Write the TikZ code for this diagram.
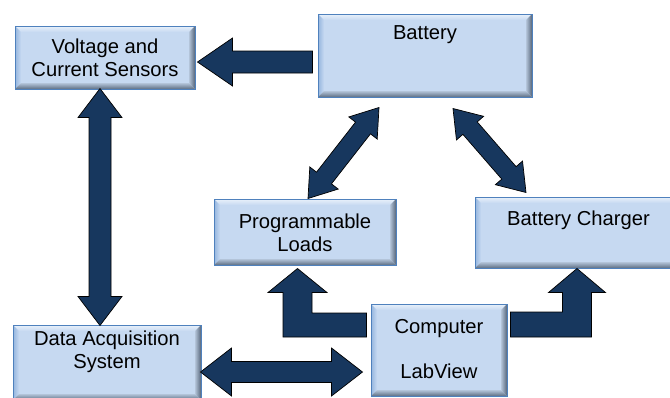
\documentclass[tikz,border=0pt]{standalone}
\usepackage{fontspec}
\setmainfont{Liberation Sans}
\usetikzlibrary{calc}
\definecolor{boxface}{HTML}{C6D9F1}
\definecolor{boxline}{HTML}{4F81BD}
\definecolor{bevtop}{HTML}{E9F1FA}
\definecolor{bevleft}{HTML}{95B5DE}
\definecolor{bevright}{HTML}{56667A}
\definecolor{bevbot}{HTML}{5E6F84}
\definecolor{bevmid}{HTML}{B3C4D9}
\definecolor{arrowfill}{HTML}{17375E}
\tikzset{
  bevelbox/.style={draw=boxline, line width=1pt, fill=boxface, inner sep=0pt,
    path picture={
      \coordinate (nw) at (path picture bounding box.north west);
      \coordinate (ne) at (path picture bounding box.north east);
      \coordinate (sw) at (path picture bounding box.south west);
      \coordinate (se) at (path picture bounding box.south east);
      \shade[top color=bevtop, bottom color=boxface] (nw) -- (ne) -- ($(ne)+(-6pt,-6pt)$) -- ($(nw)+(6pt,-6pt)$) -- cycle;
      \shade[left color=bevleft, right color=boxface] (nw) -- ($(nw)+(6pt,-6pt)$) -- ($(sw)+(6pt,6pt)$) -- (sw) -- cycle;
      \shade[left color=bevmid, right color=bevright] (ne) -- ($(ne)+(-6pt,-6pt)$) -- ($(se)+(-6pt,6pt)$) -- (se) -- cycle;
      \shade[top color=bevmid, bottom color=bevbot] (sw) -- ($(sw)+(6pt,6pt)$) -- ($(se)+(-6pt,6pt)$) -- (se) -- cycle;
    }},
  boxtext/.style={align=center, inner sep=0pt, font=\fontsize{20.2}{23}\selectfont},
  blockarrow/.style={fill=arrowfill, draw=black, line width=0.7pt, line join=miter}
}
\newcommand{\sglarrow}[5]{%
  \coordinate (hh) at ($(#2)!#5!(#1)$);
  \filldraw[blockarrow] ($(#1)!#3!90:(#2)$) -- ($(hh)!#3!-90:(#1)$) -- ($(hh)!#4!-90:(#1)$) -- (#2)
    -- ($(hh)!#4!90:(#1)$) -- ($(hh)!#3!90:(#1)$) -- ($(#1)!#3!-90:(#2)$) -- cycle;
}
\newcommand{\dblarrow}[5]{%
  \coordinate (ha) at ($(#1)!#5!(#2)$);
  \coordinate (hb) at ($(#2)!#5!(#1)$);
  \filldraw[blockarrow] (#1) -- ($(ha)!#4!90:(#2)$) -- ($(ha)!#3!90:(#2)$) -- ($(hb)!#3!-90:(#1)$)
    -- ($(hb)!#4!-90:(#1)$) -- (#2) -- ($(hb)!#4!90:(#1)$) -- ($(hb)!#3!90:(#1)$)
    -- ($(ha)!#3!-90:(#2)$) -- ($(ha)!#4!-90:(#2)$) -- cycle;
}
\begin{document}
\begin{tikzpicture}[x=1pt, y=-1pt]
\useasboundingbox (0,0) rectangle (670,397);
\clip (0,0) rectangle (670,397);
% boxes
\node[bevelbox, minimum width=180pt, minimum height=63pt] (volt) at (105,57.5) {};
\node[bevelbox, minimum width=214pt, minimum height=83pt] (bat) at (425,55.5) {};
\node[bevelbox, minimum width=182pt, minimum height=66pt] (prog) at (305,232) {};
\node[bevelbox, minimum width=207pt, minimum height=71pt] (chg) at (578.5,232.5) {};
\node[bevelbox, minimum width=136pt, minimum height=92pt] (comp) at (439,350) {};
\node[bevelbox, minimum width=188pt, minimum height=75pt] (daq) at (107,362.5) {};
% texts
\node[boxtext] (voltt) at (105,58) {Voltage and\\Current Sensors};
\node[boxtext] (batt) at (425,35) {Battery};
\node[boxtext] (progt) at (305,232.5) {Programmable\\Loads};
\node[boxtext] (chgt) at (578.5,220) {Battery Charger};
\node[boxtext] (compt) at (439,349.5) {Computer\\[22pt]LabView};
\node[boxtext] (daqt) at (107,352) {Data Acquisition\\System};
% straight arrows
\coordinate (a1s) at ($(bat.west)+(-5,6.5)$);
\coordinate (a1t) at ($(volt.east)+(2,4.5)$);
\sglarrow{a1s}{a1t}{11pt}{24pt}{35pt}
\coordinate (a2a) at ($(volt.south)+(-5,-1)$);
\coordinate (a2b) at ($(daq.north)+(-7,1)$);
\dblarrow{a2a}{a2b}{11pt}{22pt}{29pt}
\coordinate (a3a) at ($(bat.south)+(-46,10)$);
\coordinate (a3b) at ($(prog.north)+(3,0)$);
\dblarrow{a3a}{a3b}{9.5pt}{18pt}{26pt}
\coordinate (a4a) at ($(bat.south)+(28,11)$);
\coordinate (a4b) at ($(chg.north)+(-52.5,-4)$);
\dblarrow{a4a}{a4b}{9.5pt}{18pt}{26pt}
\coordinate (a5a) at ($(daq.east)+(-1,9.5)$);
\coordinate (a5b) at ($(comp.west)+(-8,22)$);
\dblarrow{a5a}{a5b}{10.5pt}{24pt}{31pt}
% bent arrows
\coordinate (t6) at ($(prog.south)+(-7.5,3)$);
\coordinate (e6) at ($(comp.west)+(-4,-25)$);
\filldraw[blockarrow] (t6) -- ($(t6)+(29.5,24)$) -- ($(t6)+(14.5,24)$) -- ($(t6|-e6)+(14.5,-12)$)
  -- ($(e6)+(0,-12)$) -- ($(e6)+(0,12)$) -- ($(t6|-e6)+(-14.5,12)$) -- ($(t6)+(-14.5,24)$)
  -- ($(t6)+(-29.5,24)$) -- cycle;
\coordinate (t7) at ($(chg.south)+(-1.5,0)$);
\coordinate (e7) at ($(comp.east)+(3,-25.5)$);
\filldraw[blockarrow] (t7) -- ($(t7)+(28.5,24)$) -- ($(t7)+(14.5,24)$) -- ($(t7|-e7)+(14.5,12.5)$)
  -- ($(e7)+(0,12.5)$) -- ($(e7)+(0,-12.5)$) -- ($(t7|-e7)+(-14.5,-12.5)$) -- ($(t7)+(-14.5,24)$)
  -- ($(t7)+(-28.5,24)$) -- cycle;
\end{tikzpicture}
\end{document}
